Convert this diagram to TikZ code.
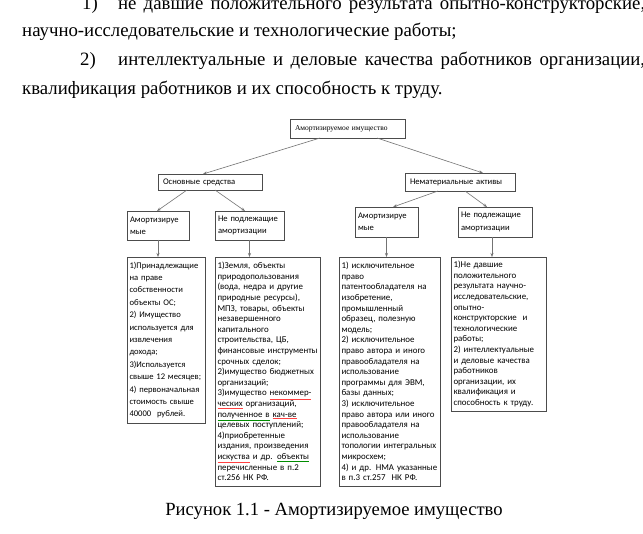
\documentclass[tikz,border=0pt]{standalone}
\usepackage{fontspec}
\setmainfont{Liberation Serif}
\newfontfamily\calibri{Carlito}
\usetikzlibrary{arrows.meta}
\colorlet{boxline}{black!70}
\colorlet{linkline}{black!55}
\colorlet{spellred}{red!75}
\colorlet{spellgreen}{green!55!black}
\newcommand{\bodyfont}{\fontsize{18.8}{22}\selectfont}
\newcommand{\topfont}{\fontsize{7.5}{9}\selectfont}
\newcommand{\cellfont}{\calibri\fontsize{8.9}{10.6}\selectfont}
\newcommand{\cellfontloose}{\calibri\fontsize{8.6}{12.4}\selectfont}
\newcommand{\redul}[1]{{\color{spellred}\underline{\color{black}#1}}}
\newcommand{\greenul}[1]{{\color{spellgreen}\underline{\color{black}#1}}}
\newcommand{\textosam}{1)Принадлежащие\\на праве\\собственности\\объекты ОС;\\2) Имущество\\используется для\\извлечения\\дохода;\\3)Используется\\свыше 12 месяцев;\\4) первоначальная\\стоимость свыше\\40000~ рублей.}
\newcommand{\textosnp}{1)Земля, объекты\\природопользования\\(вода, недра и другие\\природные ресурсы),\\МПЗ, товары, объекты\\незавершенного\\капитального\\строительства, ЦБ,\\\mbox{финансовые инструменты}\\срочных сделок;\\2)имущество бюджетных\\организаций;\\3)имущество \redul{некоммер-}\\\redul{ческих} организаций,\\\greenul{полученное в} \redul{кач-ве}\\целевых поступлений;\\4)приобретенные\\издания, произведения\\\redul{искуства} и др. \greenul{объекты}\\перечисленные в п.2\\ст.256 НК РФ.}
\newcommand{\textnmaam}{1) исключительное\\право\\патентообладателя на\\изобретение,\\промышленный\\образец, полезную\\модель;\\2) исключительное\\право автора и иного\\правообладателя на\\использование\\программы для ЭВМ,\\базы данных;\\3) исключительное\\право автора или иного\\правообладателя на\\использование\\топологии интегральных\\микросхем;\\4) и др. НМА указанные\\в п.3 ст.257~ НК РФ.}
\newcommand{\textnmanp}{1)Не давшие\\положительного\\результата научно-\\исследовательские,\\опытно-\\конструкторские~ и\\технологические\\работы;\\2) интеллектуальные\\и деловые качества\\работников\\организации, их\\квалификация и\\способность к труду.}

\begin{document}
\begin{tikzpicture}[x=1pt,y=-1pt,
	cell/.style={draw=boxline,line width=0.8pt,anchor=north west,outer sep=0pt,%
		inner xsep=2.5pt,inner ysep=0pt,align=left,font=\cellfont},
	head/.style={cell,inner xsep=5pt,font=\cellfontloose},
	para/.style={anchor=base west,inner sep=0pt,font=\bodyfont},
	link/.style={draw=linkline,line width=0.6pt,-{Stealth[length=4pt,width=3pt]}}
	]
	\useasboundingbox[fill=white] (0,0) rectangle (643,534);

	% text of the page
	\node[para] (line1) at (82,10) {\makebox[36pt][l]{1)}\makebox[527pt][s]{не давшие положительного результата опытно-конструкторские,}};
	\node[para] (line2) at (22,37) {научно-исследовательские и технологические работы;};
	\node[para] (line3) at (80,66) {\makebox[38pt][l]{2)}\makebox[527pt][s]{интеллектуальные и деловые качества работников организации,}};
	\node[para] (line4) at (22,95) {квалификация работников и их способность к труду.};

	% boxes
	\node[head,text width=105pt,minimum height=19pt,font=\topfont] (amort) at (290,119) {Амортизируемое имущество};
	\node[head,text width=94pt,minimum height=16pt] (os) at (158,174) {Основные средства};
	\node[head,text width=100pt,minimum height=18pt] (nma) at (405,173) {Нематериальные активы};
	\node[cell,inner xsep=3pt,text width=56pt,minimum height=29pt,font=\cellfontloose] (osam) at (127,211) {Амортизируе\\мые};
	\node[cell,inner xsep=3pt,text width=63pt,minimum height=29pt,font=\cellfontloose] (osnp) at (215,211) {Не подлежащие\\амортизации};
	\node[cell,inner xsep=3pt,text width=57pt,minimum height=30pt,font=\cellfontloose] (nmaam) at (355,207) {Амортизируе\\мые};
	\node[cell,inner xsep=3pt,text width=68pt,minimum height=30pt,font=\cellfontloose] (nmanp) at (458,207) {Не подлежащие\\амортизации};

	\node[cell,text width=73pt,minimum height=166pt,font=\cellfontloose] (osamlist) at (127,257) {\textosam};
	\node[cell,text width=100pt,minimum height=229pt] (osnplist) at (215,257) {\textosnp};
	\node[cell,text width=96pt,minimum height=229pt] (nmaamlist) at (339,257) {\textnmaam};
	\node[cell,text width=90pt,minimum height=154pt] (nmanplist) at (451,257) {\textnmanp};

	% connectors
	\draw[link] ([xshift=-27.5pt]amort.south) -- ([xshift=-7pt]os.north);
	\draw[link] ([xshift=29.5pt]amort.south) -- ([xshift=23pt]nma.north);
	\draw[link] ([xshift=-23pt]os.south) -- ([xshift=-1pt]osam.north);
	\draw[link] ([xshift=5pt]os.south) -- ([xshift=-4.5pt]osnp.north);
	\draw[link] ([xshift=-22pt]nma.south) -- ([xshift=6.5pt]nmaam.north);
	\draw[link] ([xshift=5pt]nma.south) -- ([xshift=-8pt]nmanp.north);
	\draw[link] (osam.south) -- (osam.south |- osamlist.north);
	\draw[link] (osnp.south) -- (osnp.south |- osnplist.north);
	\draw[link] (nmaam.south) -- (nmaam.south |- nmaamlist.north);
	\draw[link] ([xshift=-3pt]nmanp.south) -- ([xshift=-3pt]nmanp.south |- nmanplist.north);

	\node[font=\fontsize{18.6}{22}\selectfont,anchor=base] (caption) at (334,515) {Рисунок 1.1 - Амортизируемое имущество};
\end{tikzpicture}
\end{document}
